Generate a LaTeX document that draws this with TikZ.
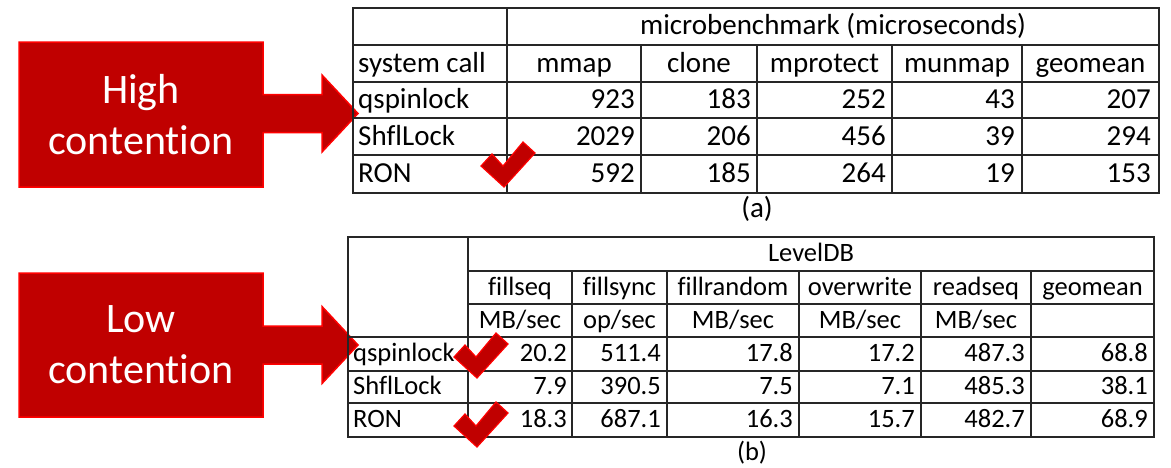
\documentclass[tikz,border=0pt]{standalone}
\usepackage{fontspec}
\setmainfont{Carlito}[Ligatures=NoCommon]
\usepackage{xcolor}
\usetikzlibrary{positioning}

\definecolor{darkred}{HTML}{C00000}

\begin{document}
\begin{tikzpicture}[
    x=1pt, y=-1pt,
    grid/.style={draw=black!85, line width=1.6pt},
    callout/.style={draw=red, fill=darkred, line width=1.5pt, line join=miter},
    tickmark/.style={draw=red, fill=darkred, line width=1.2pt, line join=miter},
    bigtxt/.style={text=white, align=center, inner sep=0pt, font=\fontsize{42}{51}\selectfont},
    cellA/.style={inner sep=0pt, font=\fontsize{29}{32}\selectfont},
    cellB/.style={inner sep=0pt, font=\fontsize{26.5}{30}\selectfont}
]
    \useasboundingbox (0,0) rectangle (1171,467);

    % Red callouts (box + arrow)
    \foreach \t/\b/\m in {42/187/113.5, 273/417/345}
        \draw[callout] (19,\t) -- (263,\t) -- (263,\m-19) -- (322,\m-19) -- (322,\m-38.5)
            -- (358,\m) -- (322,\m+38.5) -- (322,\m+19) -- (263,\m+19) -- (263,\b) -- (19,\b) -- cycle;
    \node[bigtxt] (hi) at (141,114.5) {High\\contention};
    \node[bigtxt] (lo) at (141,345) {Low\\contention};

    % Table (a) - grid
    \draw[grid] (353,8) rectangle (1159,193);
    \foreach \y in {45,82,118,155}
        \draw[grid] (353,\y) -- (1159,\y);
    \draw[grid] (507,8) -- (507,193);
    \foreach \x in {641,757,892,1022}
        \draw[grid] (\x,45) -- (\x,193);

    % Table (a) - header
    \node[cellA, anchor=base] (a-head) at (833,34.5) {microbenchmark (microseconds)};
    \node[cellA, anchor=base west] (a-sys) at (358,72) {system call};
    \foreach \name/\xc in {mmap/574, clone/699, mprotect/824.5, munmap/957, geomean/1090.5}
        \node[cellA, anchor=base] (a-\name) at (\xc,72) {\name};

    % Table (a) - data rows
    \foreach \row/\yc/\va/\vb/\vc/\vd/\ve in {qspinlock/108.5/923/183/252/43/207,
            ShflLock/145/2029/206/456/39/294, RON/182/592/185/264/19/153} {
        \node[cellA, anchor=base west] (a-\row) at (358,\yc) {\row};
        \node[cellA, anchor=base east] (a-\row-1) at (635,\yc) {\va};
        \node[cellA, anchor=base east] (a-\row-2) at (751,\yc) {\vb};
        \node[cellA, anchor=base east] (a-\row-3) at (886,\yc) {\vc};
        \node[cellA, anchor=base east] (a-\row-4) at (1015,\yc) {\vd};
        \node[cellA, anchor=base east] (a-\row-5) at (1151,\yc) {\ve};
    }
    \node[cellA, anchor=base] (cap-a) at (757,217) {(a)};

    % Table (b) - grid
    \draw[grid] (348,237) rectangle (1154,437);
    \foreach \y in {271,304}
        \draw[grid] (468,\y) -- (1154,\y);
    \foreach \y in {337,371,403}
        \draw[grid] (348,\y) -- (1154,\y);
    \draw[grid] (468,237) -- (468,437);
    \foreach \x in {572,667,799,921,1031}
        \draw[grid] (\x,271) -- (\x,437);

    % Table (b) - header
    \node[cellB, anchor=base] (b-head) at (811,261) {LevelDB};
    \foreach \name/\unit/\xc in {fillseq/MB\slash sec/520, fillsync/op\slash sec/619.5,
            fillrandom/MB\slash sec/733, overwrite/MB\slash sec/860, readseq/MB\slash sec/976}
    {
        \node[cellB, anchor=base] (b-\name) at (\xc,295) {\name};
        \node[cellB, anchor=base] (b-\name-unit) at (\xc,328) {\unit};
    }
    \node[cellB, anchor=base] (b-geomean) at (1092.5,295) {geomean};

    % Table (b) - data rows
    \foreach \row/\yc/\va/\vb/\vc/\vd/\ve/\vf in {qspinlock/361.5/20.2/511.4/17.8/17.2/487.3/68.8,
            ShflLock/394.5/7.9/390.5/7.5/7.1/485.3/38.1, RON/427.5/18.3/687.1/16.3/15.7/482.7/68.9} {
        \node[cellB, anchor=base west] (b-\row) at (353,\yc) {\row};
        \node[cellB, anchor=base east] (b-\row-1) at (567,\yc) {\va};
        \node[cellB, anchor=base east] (b-\row-2) at (661,\yc) {\vb};
        \node[cellB, anchor=base east] (b-\row-3) at (793,\yc) {\vc};
        \node[cellB, anchor=base east] (b-\row-4) at (915,\yc) {\vd};
        \node[cellB, anchor=base east] (b-\row-5) at (1025,\yc) {\ve};
        \node[cellB, anchor=base east] (b-\row-6) at (1148,\yc) {\vf};
    }
    \node[cellB, anchor=base] (cap-b) at (752,460) {(b)};

    % Check marks
    \foreach \cx/\cy in {504/187, 477/378, 477/447}
        \draw[tickmark, shift={(\cx,\cy)}] (-23,-21) -- (-12,-33) -- (-1,-21) -- (19,-45)
            -- (31,-34) -- (0,0) -- cycle;
\end{tikzpicture}
\end{document}
